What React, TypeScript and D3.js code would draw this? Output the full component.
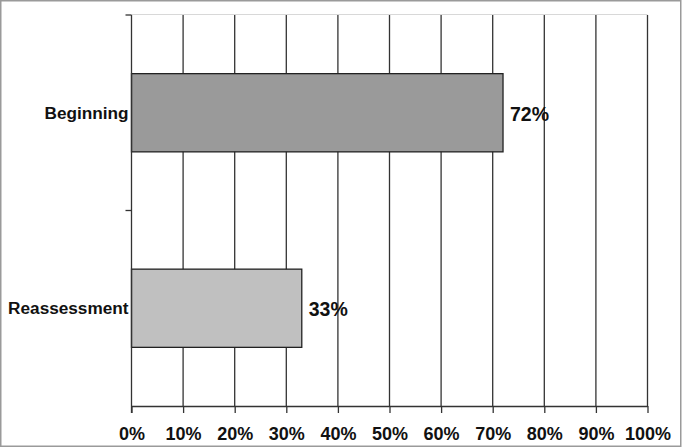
import React, { useEffect, useRef } from "react";
import * as d3 from "d3";

const categories = ["Beginning", "Reassessment"];
const values = [72, 33];
const barColors = ["#9a9a9a", "#c0c0c0"];
const xTicks = [0, 10, 20, 30, 40, 50, 60, 70, 80, 90, 100];

const W = 682;
const H = 448;

const App = () => {
  const ref = useRef<SVGSVGElement>(null);

  useEffect(() => {
    const svg = d3.select(ref.current);
    svg.selectAll("*").remove();

    const left = 131.5;
    const right = 647.5;
    const top = 15;
    const bottom = 406;
    const font = "Arial, 'Liberation Sans', sans-serif";

    // outer frame
    svg
      .append("rect")
      .attr("x", 0.75)
      .attr("y", 0.75)
      .attr("width", W - 2)
      .attr("height", H - 2.5)
      .attr("fill", "white")
      .attr("stroke", "#9a9a9a")
      .attr("stroke-width", 1.5);

    const x = d3.scaleLinear().domain([0, 100]).range([left, right]);
    const y = d3
      .scaleBand()
      .domain(categories)
      .range([top, bottom])
      .paddingInner(0.6)
      .paddingOuter(0.3);

    // faint top border of plot
    svg
      .append("line")
      .attr("x1", left)
      .attr("x2", right)
      .attr("y1", top - 0.5)
      .attr("y2", top - 0.5)
      .attr("stroke", "#d8d8d8")
      .attr("stroke-width", 1);

    // vertical gridlines
    svg
      .append("g")
      .selectAll("line")
      .data(xTicks.slice(1))
      .join("line")
      .attr("x1", (d) => x(d))
      .attr("x2", (d) => x(d))
      .attr("y1", top)
      .attr("y2", bottom)
      .attr("stroke", "#333")
      .attr("stroke-width", 1.3);

    // bars
    svg
      .append("g")
      .selectAll("rect")
      .data(values)
      .join("rect")
      .attr("x", x(0))
      .attr("y", (d, i) => y(categories[i])!)
      .attr("width", (d) => x(d) - x(0))
      .attr("height", y.bandwidth())
      .attr("fill", (d, i) => barColors[i])
      .attr("stroke", "#222")
      .attr("stroke-width", 1.3);

    // value labels
    svg
      .append("g")
      .selectAll("text")
      .data(values)
      .join("text")
      .attr("x", (d) => x(d) + 7)
      .attr("y", (d, i) => y(categories[i])! + y.bandwidth() / 2 + 1)
      .attr("dy", "0.36em")
      .attr("font-family", font)
      .attr("font-weight", "bold")
      .attr("font-size", 19.5)
      .attr("fill", "#111")
      .text((d) => d + "%");

    // x axis
    const xAxis = svg
      .append("g")
      .attr("transform", `translate(0,${bottom})`)
      .call(
        d3
          .axisBottom(x)
          .tickValues(xTicks)
          .tickSize(7)
          .tickSizeOuter(0)
          .tickPadding(14)
          .tickFormat((d) => d + "%")
      );
    xAxis.select(".domain").attr("stroke", "#333").attr("stroke-width", 1.3);
    xAxis.selectAll(".tick line").attr("stroke", "#333").attr("stroke-width", 1.3);
    xAxis
      .selectAll(".tick text")
      .attr("font-family", font)
      .attr("font-weight", "bold")
      .attr("font-size", 18)
      .attr("fill", "#111");

    // y axis line with ticks at band boundaries
    svg
      .append("line")
      .attr("x1", left)
      .attr("x2", left)
      .attr("y1", top)
      .attr("y2", bottom + 7)
      .attr("stroke", "#333")
      .attr("stroke-width", 1.3);
    const bounds = [top, (top + bottom) / 2];
    svg
      .append("g")
      .selectAll("line")
      .data(bounds)
      .join("line")
      .attr("x1", left - 6)
      .attr("x2", left)
      .attr("y1", (d) => d)
      .attr("y2", (d) => d)
      .attr("stroke", "#333")
      .attr("stroke-width", 1.3);

    // category labels
    svg
      .append("g")
      .selectAll("text")
      .data(categories)
      .join("text")
      .attr("x", left - 3)
      .attr("y", (d) => y(d)! + y.bandwidth() / 2)
      .attr("dy", "0.36em")
      .attr("text-anchor", "end")
      .attr("font-family", font)
      .attr("font-weight", "bold")
      .attr("font-size", 17.2)
      .attr("fill", "#111")
      .text((d) => d);
  }, []);

  return (
    <svg
      ref={ref}
      width={W}
      height={H}
      style={{ position: "absolute", left: 0, top: 0, display: "block" }}
    ></svg>
  );
};

export default App;
